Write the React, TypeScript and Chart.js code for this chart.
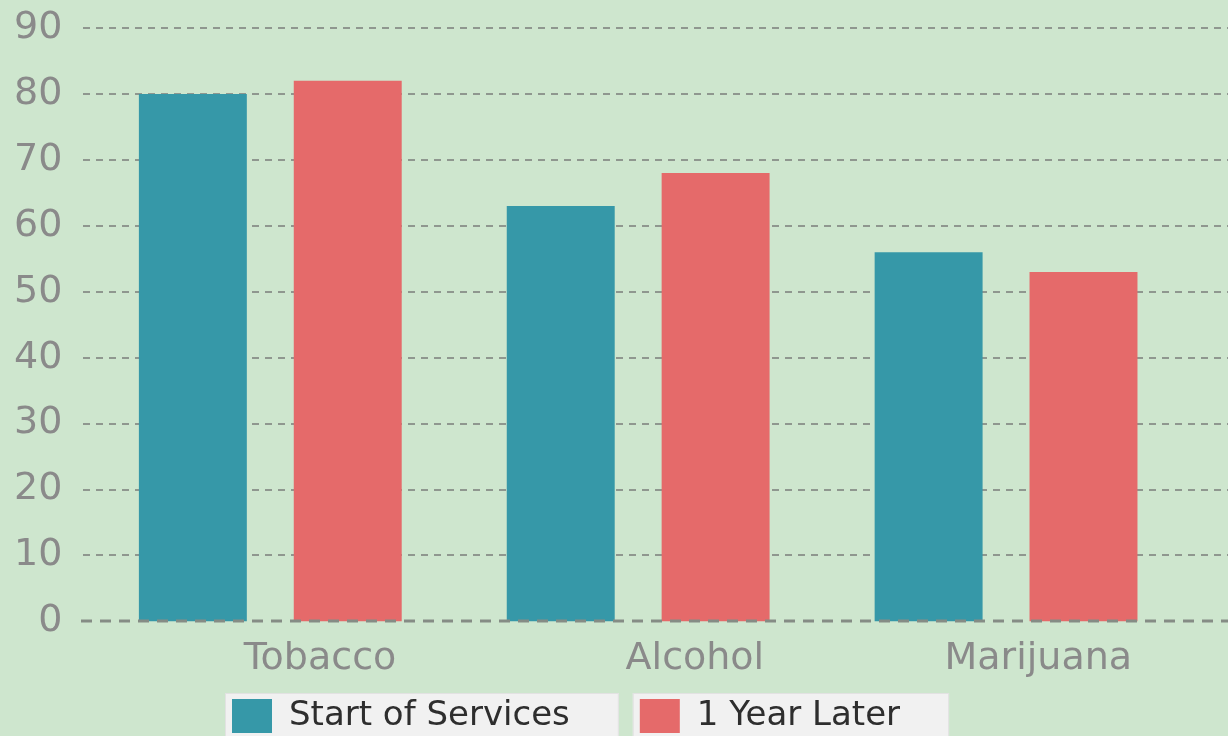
import React, { useEffect, useRef } from "react";
import { Chart, registerables } from "chart.js";

Chart.register(...registerables);

const categories = ["Tobacco", "Alcohol", "Marijuana"];
const startOfServices = [80, 63, 56];
const oneYearLater = [82, 68, 53];
const seriesNames = ["Start of Services", "1 Year Later"];
const yTicks = [0, 10, 20, 30, 40, 50, 60, 70, 80, 90];

const BG = "#cee6ce";
const TEAL = "#3698a8";
const CORAL = "#e56a6a";
const GRID = "#8f978f";
const AXIS_TEXT = "#8a8a8a";
const FONT = "'DejaVu Sans', 'Liberation Sans', Arial, sans-serif";

const customPlugin = {
  id: "customLook",
  afterLayout(chart: any) {
    const lg = chart.legend;
    if (!lg) return;
    const pad = lg.options.labels.padding;
    lg.left = 232 - pad;
    lg.right = chart.width;
    lg.width = lg.right - lg.left;
    lg.top = 699 - pad;
    lg.bottom = chart.height;
    lg.height = lg.bottom - lg.top;
  },
  beforeDraw(chart: any) {
    const ctx = chart.ctx;
    ctx.save();
    ctx.fillStyle = BG;
    ctx.fillRect(0, 0, chart.width, chart.height);
    const lg = chart.legend;
    if (lg && lg.legendHitBoxes) {
      for (const hb of lg.legendHitBoxes) {
        const x = hb.left - 7;
        const y = hb.top - 6;
        const w = hb.width + 56;
        const h = 80;
        ctx.fillStyle = "#f1f1f1";
        ctx.fillRect(x, y, w, h);
        ctx.strokeStyle = "#e2e2e2";
        ctx.lineWidth = 1;
        ctx.strokeRect(x + 0.5, y + 0.5, w - 1, h);
      }
    }
    ctx.restore();
  },
  beforeDatasetsDraw(chart: any) {
    const ctx = chart.ctx;
    const y = chart.scales.y;
    ctx.save();
    ctx.strokeStyle = GRID;
    ctx.lineWidth = 2;
    ctx.setLineDash([7, 6]);
    for (const v of yTicks) {
      if (v === 0) continue;
      const py = Math.round(y.getPixelForValue(v));
      ctx.beginPath();
      ctx.moveTo(83, py);
      ctx.lineTo(chart.width, py);
      ctx.stroke();
    }
    ctx.restore();
  },
  afterDatasetsDraw(chart: any) {
    const ctx = chart.ctx;
    const y = chart.scales.y;
    ctx.save();
    ctx.strokeStyle = "#858c85";
    ctx.lineWidth = 3;
    ctx.setLineDash([11, 8]);
    const py = Math.round(y.getPixelForValue(0));
    ctx.beginPath();
    ctx.moveTo(81, py);
    ctx.lineTo(chart.width, py);
    ctx.stroke();
    ctx.restore();
  },
};

export default function App() {
  const canvasRef = useRef<HTMLCanvasElement | null>(null);

  useEffect(() => {
    if (!canvasRef.current) return;
    const chart = new Chart(canvasRef.current, {
      type: "bar",
      data: {
        labels: categories,
        datasets: [
          {
            label: seriesNames[0],
            data: startOfServices,
            backgroundColor: TEAL,
            borderWidth: 0,
            categoryPercentage: 0.842,
            barPercentage: 0.697,
          },
          {
            label: seriesNames[1],
            data: oneYearLater,
            backgroundColor: CORAL,
            borderWidth: 0,
            categoryPercentage: 0.842,
            barPercentage: 0.697,
          },
        ],
      },
      options: {
        animation: false,
        responsive: true,
        maintainAspectRatio: false,
        devicePixelRatio: 1,
        layout: {
          padding: { left: 14, right: 38, top: 28, bottom: 43 },
        },
        scales: {
          x: {
            grid: { display: false, drawTicks: false },
            border: { display: false },
            ticks: {
              color: AXIS_TEXT,
              font: { family: FONT, size: 38 },
              padding: 15,
              align: "end",
              labelOffset: 126,
              maxRotation: 0,
              autoSkip: false,
            },
          },
          y: {
            min: 0,
            max: 90,
            grid: { display: false, drawTicks: true, tickLength: 24 },
            border: { display: false },
            ticks: {
              stepSize: 10,
              color: AXIS_TEXT,
              font: { family: FONT, size: 38 },
              padding: 0,
            },
          },
        },
        plugins: {
          legend: {
            position: "bottom",
            align: "start",
            maxHeight: 60,
            labels: {
              boxWidth: 40,
              boxHeight: 34,
              padding: 70,
              color: "#2e2e2e",
              font: { family: FONT, size: 34 },
            },
          },
          tooltip: { enabled: false },
        },
      },
      plugins: [customPlugin],
    } as any);
    return () => chart.destroy();
  }, []);

  return (
    <div
      style={{
        position: "fixed",
        left: 0,
        top: 0,
        width: 1228,
        height: 736,
        overflow: "hidden",
        background: BG,
      }}
    >
      <div style={{ position: "relative", width: 1228, height: 800 }}>
        <canvas ref={canvasRef} />
      </div>
    </div>
  );
}
